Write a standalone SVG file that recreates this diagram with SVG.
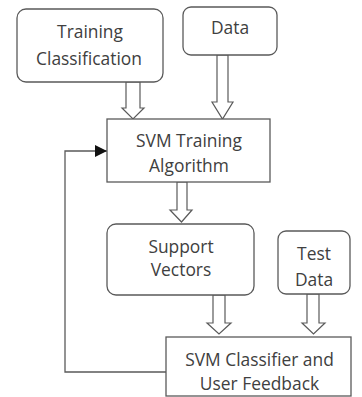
<svg xmlns="http://www.w3.org/2000/svg" width="362" height="397" viewBox="0 0 362 397">
<style>
.box{fill:#fff;stroke:#5a5a5a;stroke-width:1.3}
.ha{fill:#fff;stroke:#5a5a5a;stroke-width:1.2;stroke-linejoin:miter}
.ln{fill:none;stroke:#5a5a5a;stroke-width:1.3}
text{font-family:"Open Sans","Noto Sans",sans-serif;font-size:17.4px;fill:#404040;text-anchor:middle}
</style>
<defs>
<marker id="ah" markerWidth="12" markerHeight="12" refX="12" refY="6" orient="auto" markerUnits="userSpaceOnUse">
<path d="M0,0 L12,6 L0,12 Z" fill="#111"/>
</marker>
</defs>
<rect width="362" height="397" fill="#fff"/>
<g id="connectors">
<polygon class="ha" points="126,82 140,82 140,108 144,108 133,119 122,108 126,108"/>
<polygon class="ha" points="217,55 228,55 228,102 233,102 222.5,119 212,102 217,102"/>
<polygon class="ha" points="177,182 187,182 187,210 192,210 181.5,222 170,210 177,210"/>
<polygon class="ha" points="213,295 225,295 225,323 231,323 219,334 207,323 213,323"/>
<polygon class="ha" points="307,294 319,294 319,323 325,323 313.5,334 302,323 307,323"/>
<path class="ln" d="M166,372 H65 V151 H107" marker-end="url(#ah)"/>
</g>
<g id="training-classification">
<rect class="box" x="17" y="9" width="146" height="73" rx="9"/>
<text x="90" y="38">Training</text>
<text x="89" y="65">Classification</text>
</g>
<g id="data">
<rect class="box" x="183" y="7" width="94" height="48" rx="8"/>
<text x="230" y="34">Data</text>
</g>
<g id="svm-training">
<rect class="box" x="107" y="119" width="163" height="63"/>
<text x="189" y="147">SVM Training</text>
<text x="189" y="172">Algorithm</text>
</g>
<g id="support-vectors">
<rect class="box" x="107" y="224" width="147" height="71" rx="9"/>
<text x="181" y="253">Support</text>
<text x="181" y="276">Vectors</text>
</g>
<g id="test-data">
<rect class="box" x="278" y="231" width="72" height="63" rx="8"/>
<text x="314" y="260">Test</text>
<text x="314" y="286">Data</text>
</g>
<g id="svm-classifier">
<rect class="box" x="166" y="337" width="185" height="59"/>
<text x="259.5" y="366">SVM Classifier and</text>
<text x="259.5" y="390">User Feedback</text>
</g>
</svg>
